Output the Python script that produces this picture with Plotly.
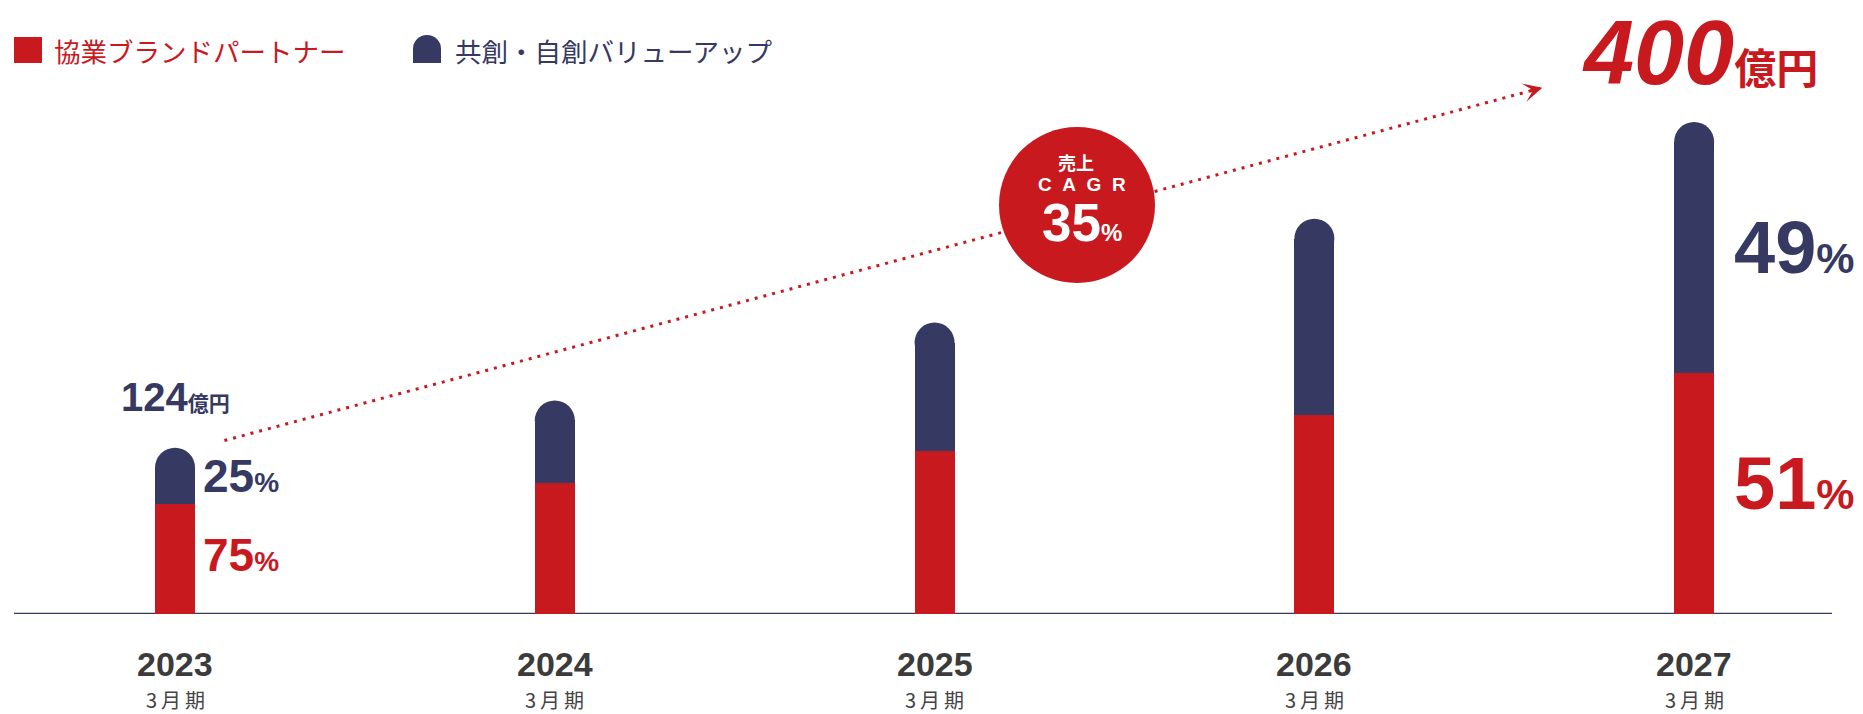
import math
import plotly.graph_objects as go

# ---- data (億円) ----
years = ["2023", "2024", "2025", "2026", "2027"]
period_label = "3月期"
series_names = ["協業ブランドパートナー", "共創・自創バリューアップ"]
partner = [93, 111, 138, 169, 204]      # 協業ブランドパートナー
value_up = [31, 53, 92, 149, 196]       # 共創・自創バリューアップ
labelled = [0, 4]                       # years whose total and shares are printed
cagr_text = ["売上", "CAGR", "35", "%"]
unit = "億円"

totals = [a + b for a, b in zip(partner, value_up)]

# ---- style ----
RED = "#c8191e"
NAVY = "#363961"
GREY = "#3b3b3b"
NUM_FONT = "Liberation Sans, Arial, Noto Sans CJK JP, sans-serif"
JP_FONT = "Noto Sans CJK JP, sans-serif"

W, H = 1863, 714
M_L, M_R, M_T, M_B = 14, 31, 0, 100
PLOT_W = W - M_L - M_R
PLOT_H = H - M_T - M_B
X_RANGE = [-0.424, 4.363]
PX_PER_VAL = 1.18
Y_RANGE = [0, PLOT_H / PX_PER_VAL]
BAR_PX = 40
px_per_x = PLOT_W / (X_RANGE[1] - X_RANGE[0])
bar_w = BAR_PX / px_per_x


def xp(px):
    return (px - M_L) / PLOT_W


def yp(py):
    return (M_T + PLOT_H - py) / PLOT_H


xs = list(range(len(years)))

fig = go.Figure()
fig.add_trace(go.Bar(x=xs, y=partner, width=bar_w, name=series_names[0],
                     marker=dict(color=RED, line=dict(width=0))))
fig.add_trace(go.Bar(x=xs, y=value_up, width=bar_w, name=series_names[1],
                     marker=dict(color=NAVY, line=dict(width=0))))
# rounded top of every stack
fig.add_trace(go.Scatter(x=xs, y=totals, mode="markers", cliponaxis=False,
                         marker=dict(size=BAR_PX, color=NAVY, line=dict(width=0)),
                         hoverinfo="skip"))

# dotted growth line from the first total towards the last one
arrow_x = [xs[0] + 0.13, xs[-1] - 0.40]
arrow_y = [totals[0] + 23, totals[-1] + 46]
fig.add_trace(go.Scatter(x=arrow_x, y=arrow_y, mode="lines", cliponaxis=False,
                         line=dict(color=RED, width=3, dash="3px,6px"),
                         hoverinfo="skip"))

# direction of the growth line on screen, for its arrowhead
dx_px = (arrow_x[1] - arrow_x[0]) * px_per_x
dy_px = (arrow_y[1] - arrow_y[0]) * PX_PER_VAL
seg = math.hypot(dx_px, dy_px)
head_back = 14

shapes = [
    dict(type="line", xref="paper", yref="y", x0=0, x1=1, y0=0, y1=0,
         line=dict(color=NAVY, width=2.5), layer="below"),
    # legend swatches
    dict(type="rect", xref="paper", yref="paper", x0=xp(14), x1=xp(42),
         y0=yp(63), y1=yp(37), fillcolor=RED, line=dict(width=0)),
    dict(type="rect", xref="paper", yref="paper", x0=xp(413), x1=xp(441),
         y0=yp(63), y1=yp(49), fillcolor=NAVY, line=dict(width=0)),
    dict(type="circle", xref="paper", yref="paper", xsizemode="pixel",
         ysizemode="pixel", xanchor=xp(427), yanchor=yp(49),
         x0=-14, x1=14, y0=-14, y1=14, fillcolor=NAVY, line=dict(width=0)),
    # CAGR badge
    dict(type="circle", xref="paper", yref="paper", xsizemode="pixel",
         ysizemode="pixel", xanchor=xp(1077), yanchor=yp(205),
         x0=-78, x1=78, y0=-78, y1=78, fillcolor=RED, line=dict(width=0),
         layer="above"),
]

ann = []
# arrowhead at the end of the growth line
ann.append(dict(x=arrow_x[1], y=arrow_y[1], xref="x", yref="y", text="",
                showarrow=True, arrowhead=3, arrowsize=1.05, arrowwidth=3,
                arrowcolor=RED, ax=-head_back * dx_px / seg,
                ay=head_back * dy_px / seg))

# legend text
ann.append(dict(xref="paper", yref="paper", x=xp(52), y=yp(50), xanchor="left",
                yanchor="middle", showarrow=False, text=series_names[0],
                font=dict(family=JP_FONT, size=26.5, color=RED)))
ann.append(dict(xref="paper", yref="paper", x=xp(453), y=yp(50), xanchor="left",
                yanchor="middle", showarrow=False, text=series_names[1],
                font=dict(family=JP_FONT, size=26.5, color=NAVY)))

# category labels under the baseline
for i, yr in zip(xs, years):
    ann.append(dict(x=i, y=0, xref="x", yref="y", yanchor="middle", yshift=-50,
                    showarrow=False, text=f"<b>{yr}</b>",
                    font=dict(family=NUM_FONT, size=34, color=GREY)))
    ann.append(dict(x=i, y=0, xref="x", yref="y", yanchor="middle", yshift=-85,
                    showarrow=False, text="\u2009".join(period_label),
                    font=dict(family=JP_FONT, size=20, color="#444444")))

# totals above the first and last bars
ann.append(dict(x=xs[0], y=totals[0], xref="x", yref="y", yanchor="bottom",
                yshift=BAR_PX / 2 + 27, showarrow=False,
                text=f"<b>{totals[0]}</b><span style='font-size:21px'><b>{unit}</b></span>",
                font=dict(family=NUM_FONT, size=40, color=NAVY)))
ann.append(dict(x=xs[-1], y=totals[-1], xref="x", yref="y", yanchor="bottom",
                xshift=6, yshift=BAR_PX / 2 + 17, showarrow=False,
                text=f"<b><i>{totals[-1]}</i></b><span style='font-size:42px'><b>{unit}</b></span>",
                font=dict(family=NUM_FONT, size=90, color=RED)))

# share labels beside the first and last bars: (big, small, gap, red lift)
share_style = {0: (46, 28, 6, 4), 4: (74, 43, 18, 10)}
for i in labelled:
    big, small, gap, lift = share_style[i]
    p_red = round(100 * partner[i] / totals[i])
    p_navy = round(100 * value_up[i] / totals[i])
    ann.append(dict(x=i, y=partner[i] / 2, xref="x", yref="y", xanchor="left",
                    yanchor="middle", xshift=BAR_PX / 2 + gap, yshift=lift,
                    showarrow=False,
                    text=f"<b>{p_red}</b><span style='font-size:{small}px'><b>%</b></span>",
                    font=dict(family=NUM_FONT, size=big, color=RED)))
    ann.append(dict(x=i, y=partner[i] + value_up[i] / 2, xref="x", yref="y",
                    xanchor="left", yanchor="middle", xshift=BAR_PX / 2 + gap,
                    yshift=BAR_PX / 4, showarrow=False,
                    text=f"<b>{p_navy}</b><span style='font-size:{small}px'><b>%</b></span>",
                    font=dict(family=NUM_FONT, size=big, color=NAVY)))

# CAGR badge text
badge = dict(xref="paper", yref="paper", xanchor="center", yanchor="middle",
             showarrow=False)
ann.append(dict(badge, x=xp(1076), y=yp(162), text=f"<b>{cagr_text[0]}</b>",
                font=dict(family=JP_FONT, size=18, color="white")))
ann.append(dict(badge, x=xp(1082), y=yp(184),
                text="<b>" + "\u00a0\u00a0".join(cagr_text[1]) + "</b>",
                font=dict(family=NUM_FONT, size=19, color="white")))
ann.append(dict(badge, x=xp(1082), y=yp(222),
                text=f"<b>{cagr_text[2]}</b><span style='font-size:24px'><b>{cagr_text[3]}</b></span>",
                font=dict(family=NUM_FONT, size=53, color="white")))

fig.update_layout(
    width=W, height=H,
    margin=dict(l=M_L, r=M_R, t=M_T, b=M_B),
    paper_bgcolor="white", plot_bgcolor="white",
    barmode="stack", bargap=0, showlegend=False,
    shapes=shapes, annotations=ann,
    xaxis=dict(range=X_RANGE, visible=False, fixedrange=True),
    yaxis=dict(range=Y_RANGE, visible=False, fixedrange=True),
)

fig.write_html("out.html", config={"displayModeBar": False})
